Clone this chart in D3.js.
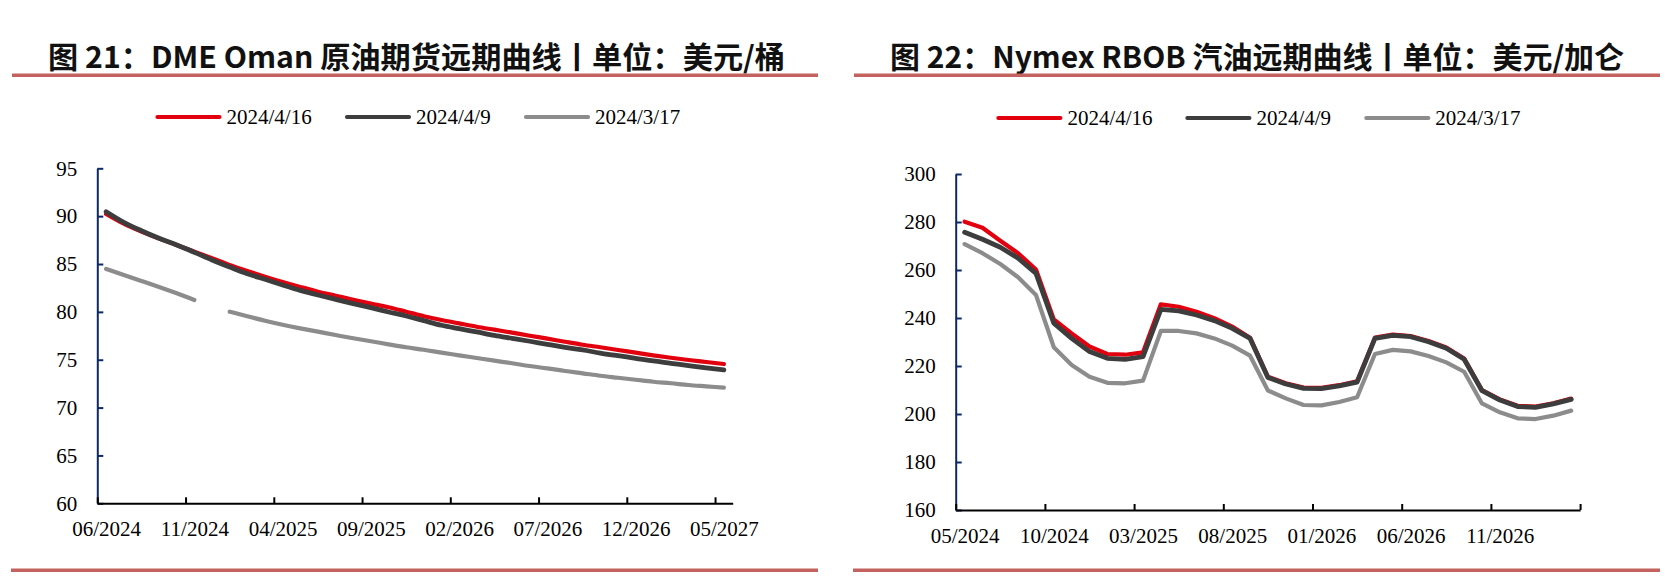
<!DOCTYPE html>
<html>
<head>
<meta charset="utf-8">
<script src="https://cdn.jsdelivr.net/npm/d3@7/dist/d3.min.js"></script>
<style>
  html, body { margin: 0; padding: 0; background: #fff; }
  svg { display: block; }
</style>
</head>
<body>
<svg id="chart" width="1669" height="577"></svg>
<script>
// ---------------- DATA ----------------
const seriesNames = ["2024/4/16", "2024/4/9", "2024/3/17"];

const omanMonths = ["06/2024","07/2024","08/2024","09/2024","10/2024","11/2024","12/2024",
  "01/2025","02/2025","03/2025","04/2025","05/2025","06/2025","07/2025","08/2025","09/2025",
  "10/2025","11/2025","12/2025","01/2026","02/2026","03/2026","04/2026","05/2026","06/2026",
  "07/2026","08/2026","09/2026","10/2026","11/2026","12/2026","01/2027","02/2027","03/2027",
  "04/2027","05/2027"];
const oman_0416 = [90.23,89.21,88.38,87.65,86.99,86.29,85.60,84.90,84.27,83.68,83.12,82.60,
  82.11,81.69,81.27,80.86,80.48,80.02,79.55,79.15,78.80,78.45,78.14,77.83,77.51,77.20,76.88,
  76.57,76.30,76.02,75.74,75.46,75.21,74.97,74.76,74.55];
const oman_0409 = [90.47,89.36,88.48,87.69,86.99,86.22,85.42,84.69,83.99,83.40,82.81,82.25,
  81.76,81.31,80.86,80.44,79.99,79.57,79.08,78.60,78.24,77.90,77.55,77.24,76.93,76.61,76.30,
  76.02,75.70,75.42,75.15,74.87,74.63,74.38,74.14,73.93];
const oman_0317 = [84.48,83.85,83.23,82.60,81.94,81.24,null,80.02,79.54,79.08,78.66,78.28,
  77.93,77.58,77.24,76.93,76.61,76.30,76.04,75.74,75.46,75.18,74.90,74.63,74.34,74.10,73.82,
  73.58,73.33,73.12,72.91,72.70,72.54,72.36,72.22,72.08];
const omanYTicks = [60,65,70,75,80,85,90,95];

const rbobMonths = ["05/2024","06/2024","07/2024","08/2024","09/2024","10/2024","11/2024",
  "12/2024","01/2025","02/2025","03/2025","04/2025","05/2025","06/2025","07/2025","08/2025",
  "09/2025","10/2025","11/2025","12/2025","01/2026","02/2026","03/2026","04/2026","05/2026",
  "06/2026","07/2026","08/2026","09/2026","10/2026","11/2026","12/2026","01/2027","02/2027",
  "03/2027"];
const rbob_0416 = [280.1,277.6,272.2,267.0,260.2,239.4,233.6,228.1,225.0,224.7,225.7,245.7,
  244.7,242.6,239.9,236.4,231.8,215.5,212.8,211.0,210.9,212.0,213.6,231.8,233.1,232.5,230.4,
  227.7,223.1,210.0,206.1,203.4,203.1,204.5,206.4];
const rbob_0409 = [275.7,272.8,269.5,264.9,258.6,237.8,231.5,226.0,223.2,222.8,223.9,243.6,
  243.0,241.25,238.9,235.7,231.5,215.2,212.5,210.7,210.6,211.7,213.3,231.5,232.8,232.2,230.1,
  227.4,222.8,209.7,205.8,203.1,202.8,204.2,206.1];
const rbob_0317 = [270.8,267.0,262.5,257.0,249.6,227.8,220.4,215.5,213.0,212.8,213.9,234.6,
  234.6,233.6,231.5,228.5,224.3,209.8,206.5,203.75,203.6,205.0,207.0,225.0,226.7,226.1,224.2,
  221.5,217.6,204.4,200.7,198.2,197.9,199.3,201.4];
const rbobYTicks = [160,180,200,220,240,260,280,300];

// ---------------- STYLE ----------------
const colors = ["#E2000F", "#3D3D3D", "#8C8C8C"];
const widths = [4.2, 4.8, 4.2];
const serif = "'Liberation Serif','Times New Roman',serif";
const cjk = "'Noto Sans CJK SC','Noto Sans',sans-serif";
const axisNavy = "#0E2A66";
const ruleColor = "#C4625F";

const svg = d3.select("#chart");

function drawChart(cfg) {
  const g = svg.append("g");
  const n = cfg.months.length;

  // title
  g.append("text")
    .attr("x", cfg.titleX).attr("y", 55)
    .attr("text-anchor", "middle")
    .attr("dominant-baseline", "central")
    .attr("font-family", cjk).attr("font-weight", 700)
    .attr("font-size", 30).attr("fill", "#111")
    .attr("textLength", cfg.titleW).attr("lengthAdjust", "spacingAndGlyphs")
    .text(cfg.title);
  // rules
  g.append("rect").attr("x", cfg.ruleX0).attr("y", 73.5)
    .attr("width", cfg.ruleX1 - cfg.ruleX0).attr("height", 3.5).attr("fill", ruleColor);
  g.append("rect").attr("x", cfg.ruleX0 - 1).attr("y", 568.5)
    .attr("width", cfg.ruleX1 - cfg.ruleX0 + 1).attr("height", 3.5).attr("fill", ruleColor);

  // legend
  const leg = g.append("g");
  seriesNames.forEach((name, k) => {
    const lx = cfg.legendX[k];
    leg.append("line").attr("x1", lx).attr("x2", lx + 62)
      .attr("y1", cfg.legendY).attr("y2", cfg.legendY)
      .attr("stroke", colors[k]).attr("stroke-width", 4.2).attr("stroke-linecap", "round");
    leg.append("text").attr("x", lx + 69).attr("y", cfg.legendY + 7)
      .attr("font-family", serif).attr("font-size", 21).attr("fill", "#000")
      .text(name);
  });

  // scales
  const x = d3.scaleLinear().domain([0, n]).range([cfg.x0, cfg.x0 + n * cfg.step]);
  const y = d3.scaleLinear().domain(cfg.yDomain).range([cfg.yBottom, cfg.yTop]);

  // series lines (gray, red, black order)
  const line = d3.line()
    .defined(d => d != null)
    .x((d, i) => x(i + 0.5))
    .y(d => y(d))
    .curve(cfg.curve);
  [2, 0, 1].forEach(k => {
    g.append("path")
      .datum(cfg.series[k])
      .attr("fill", "none")
      .attr("stroke", colors[k])
      .attr("stroke-width", widths[k])
      .attr("stroke-linejoin", "round")
      .attr("stroke-linecap", "round")
      .attr("d", line);
  });

  // y axis
  const yAxis = g.append("g")
    .attr("transform", `translate(${cfg.x0},0)`)
    .call(d3.axisLeft(y).tickValues(cfg.yTicks).tickSize(-6).tickSizeOuter(0).tickPadding(20));
  yAxis.select(".domain").attr("stroke", axisNavy).attr("stroke-width", 2);
  yAxis.selectAll(".tick line").attr("stroke", axisNavy).attr("stroke-width", 2);
  yAxis.selectAll("text").attr("font-family", serif).attr("font-size", 21).attr("fill", "#000");

  // x axis: ticks at category boundaries every 5
  const tickVals = d3.range(0, n + 1, 5);
  const xAxis = g.append("g")
    .attr("transform", `translate(0,${cfg.yBottom})`)
    .call(d3.axisBottom(x).tickValues(tickVals).tickSize(-6).tickSizeOuter(0).tickFormat(""));
  xAxis.select(".domain").attr("stroke", "#000").attr("stroke-width", 2);
  xAxis.selectAll(".tick line").attr("stroke", "#000").attr("stroke-width", 2);

  // x labels at category centres every 5
  const labelIdx = d3.range(0, n, 5);
  const xLab = g.append("g")
    .attr("transform", `translate(0,${cfg.yBottom})`)
    .call(d3.axisBottom(x).tickValues(labelIdx.map(i => i + 0.5)).tickSize(0).tickPadding(18)
      .tickFormat(v => cfg.months[Math.round(v - 0.5)]));
  xLab.select(".domain").remove();
  xLab.selectAll("text").attr("font-family", serif).attr("font-size", 21).attr("fill", "#000");
}

drawChart({
  title: "图 21：DME Oman 原油期货远期曲线丨单位：美元/桶",
  titleX: 416.5, titleW: 737,
  ruleX0: 12, ruleX1: 818,
  legendX: [157.5, 347, 526], legendY: 117,
  months: omanMonths,
  series: [oman_0416, oman_0409, oman_0317],
  yTicks: omanYTicks, yDomain: [60, 95],
  x0: 97.3, step: 17.65, yTop: 168.3, yBottom: 503.3,
  curve: d3.curveMonotoneX
});

drawChart({
  title: "图 22：Nymex RBOB 汽油远期曲线丨单位：美元/加仑",
  titleX: 1257, titleW: 734,
  ruleX0: 854, ruleX1: 1660,
  legendX: [998.4, 1187.4, 1366.3], legendY: 118,
  months: rbobMonths,
  series: [rbob_0416, rbob_0409, rbob_0317],
  yTicks: rbobYTicks, yDomain: [160, 300],
  x0: 955.7, step: 17.84, yTop: 174, yBottom: 510,
  curve: d3.curveLinear
});
</script>
</body>
</html>
